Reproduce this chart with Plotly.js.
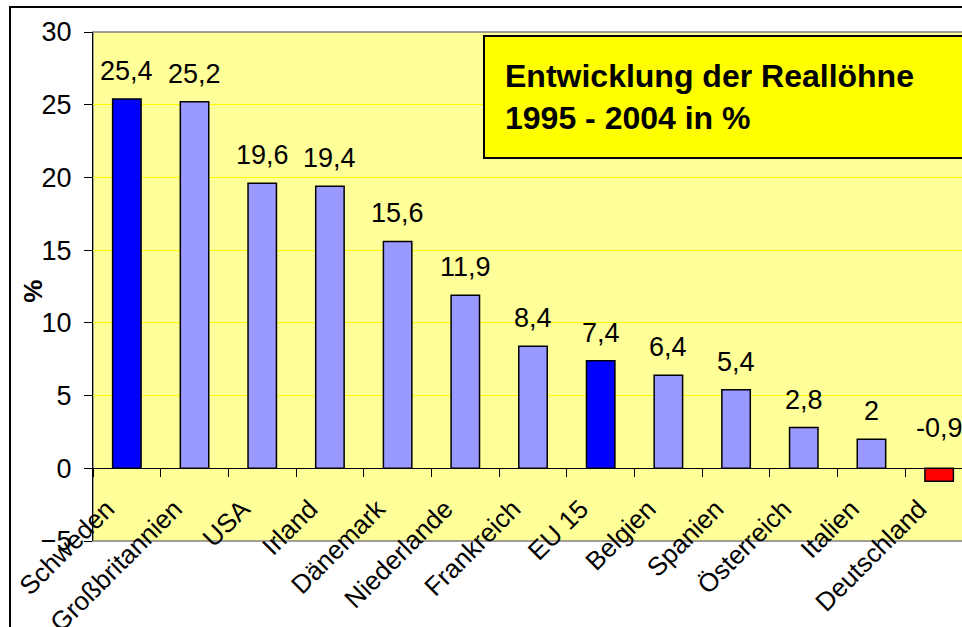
<!DOCTYPE html>
<html>
<head>
<meta charset="utf-8">
<script src="https://cdn.plot.ly/plotly-3.0.1.min.js"></script>
<style>
    html, body { margin: 0; padding: 0; background: #fff; overflow: hidden; width: 962px; height: 627px; }
    #rahmen { position: absolute; left: 9px; top: 6px; width: 1100px; height: 700px; border: 2px solid #000; }
    #chart  { position: absolute; left: 0; top: 0; width: 1000px; height: 627px; }
</style>
</head>
<body>
<div id="rahmen"></div>
<div id="chart"></div>
<script>
// Reallöhne 1995 - 2004, Veränderung in %
const laender = ['Schweden', 'Großbritannien', 'USA', 'Irland', 'Dänemark', 'Niederlande',
                 'Frankreich', 'EU 15', 'Belgien', 'Spanien', 'Österreich', 'Italien', 'Deutschland'];
const werte   = [25.4, 25.2, 19.6, 19.4, 15.6, 11.9, 8.4, 7.4, 6.4, 5.4, 2.8, 2, -0.9];
const hervorgehoben = ['Schweden', 'EU 15'];
const yTicks  = [-5, 0, 5, 10, 15, 20, 25, 30];
const titel   = 'Entwicklung der Reallöhne<br>1995 - 2004 in %';

const FONT = '"Liberation Sans", Arial, sans-serif';
const C = { hell: '#9999FF', blau: '#0000FF', rot: '#FF0000', flaeche: '#FFFF99', gitter: '#FFFF00' };

const yMin = yTicks[0], yMax = yTicks[yTicks.length - 1];
const fmt  = v => String(v).replace('.', ',');

const farben = laender.map((l, i) =>
    werte[i] < 0 ? C.rot : (hervorgehoben.includes(l) ? C.blau : C.hell));

// Werte über den Balken (negativ: über der Nulllinie)
const wertLabels = laender.map((l, i) => ({
    x: l, y: Math.max(werte[i], 0), xref: 'x', yref: 'y',
    text: fmt(werte[i]), showarrow: false, yanchor: 'bottom',
    yshift: werte[i] < 0 ? 23 : 11,
    font: { family: FONT, size: 27, color: '#000' },
}));

Plotly.newPlot('chart', [{
    type: 'bar', x: laender, y: werte,
    marker: { color: farben, line: { color: '#000', width: 1.5 } },
    hoverinfo: 'skip',
}], {
    width: 1000, height: 627,
    margin: { l: 93, r: 27, t: 32, b: 86 },
    paper_bgcolor: 'rgba(0,0,0,0)',
    plot_bgcolor: C.flaeche,
    showlegend: false,
    bargap: 0.58,
    font: { family: FONT, color: '#000' },
    xaxis: {
        type: 'category', anchor: 'free',
        position: (0 - yMin) / (yMax - yMin),
        showline: true, linecolor: '#000', linewidth: 1,
        ticks: 'outside', ticklen: 8, tickcolor: '#000', tickson: 'boundaries',
        tickangle: -45, tickfont: { family: FONT, size: 26, color: '#000' },
        ticklabelstandoff: 14, ticklabelshift: -20,
        showgrid: false, zeroline: false, fixedrange: true,
    },
    yaxis: {
        range: [yMin, yMax], tickvals: yTicks,
        showline: true, linecolor: '#000', linewidth: 1,
        ticks: 'outside', ticklen: 8, tickcolor: '#000',
        tickfont: { family: FONT, size: 27, color: '#000' },
        ticklabelstandoff: 7,
        showgrid: true, gridcolor: C.gitter, gridwidth: 1,
        zeroline: false, fixedrange: true,
    },
    shapes: [{
        type: 'rect', xref: 'paper', yref: 'paper', x0: 0, x1: 1, y0: 0, y1: 1,
        line: { color: '#808080', width: 1.5 }, layer: 'below',
    }],
    annotations: [
        ...wertLabels,
        {
            xref: 'paper', yref: 'paper', x: 0.443, y: 0.994,
            xanchor: 'left', yanchor: 'top',
            text: '<b>' + titel + '</b>', align: 'left', valign: 'middle',
            width: 560, height: 80, borderpad: 20,
            bgcolor: '#FFFF00', bordercolor: '#000', borderwidth: 2,
            showarrow: false,
            font: { family: FONT, size: 32, color: '#000' },
        },
        {
            xref: 'paper', yref: 'paper', x: -0.069, y: 0.49,
            xanchor: 'center', yanchor: 'middle',
            text: '<b>%</b>', textangle: -90, showarrow: false,
            font: { family: FONT, size: 26, color: '#000' },
        },
    ],
}, { displayModeBar: false, staticPlot: true });
</script>
</body>
</html>
